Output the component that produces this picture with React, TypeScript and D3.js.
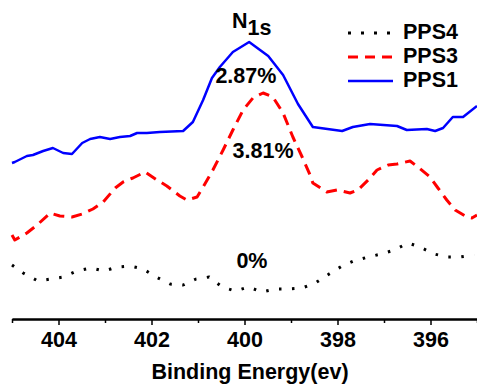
import React, { useRef, useEffect } from "react";
import * as d3 from "d3";

// binding energy (eV) and intensity (a.u.)
const pps1Energy = [405.0, 404.94, 404.68, 404.55, 404.33, 404.12, 403.9, 403.71, 403.49, 403.32, 403.11, 402.89, 402.68, 402.46, 402.31, 402.1, 401.82, 401.32, 401.11, 400.89, 400.7, 400.53, 400.25, 399.9, 399.49, 399.17, 398.85, 398.53, 397.9, 397.67, 397.3, 396.72, 396.51, 396.08, 395.9, 395.73, 395.52, 395.3, 395.0];
const pps1Value = [157, 158, 164, 165, 169, 172, 167, 166, 177, 181, 183, 181, 183, 184, 187, 187, 188, 189, 198, 220, 242, 253, 268, 278, 264, 245, 216, 193, 189, 193, 196, 194, 190, 191, 189, 192, 203, 203, 214];

const pps3Energy = [405.0, 404.94, 404.68, 404.46, 404.18, 403.97, 403.71, 403.49, 403.26, 403.04, 402.78, 402.61, 402.4, 402.14, 401.88, 401.67, 401.39, 401.24, 401.02, 400.89, 400.68, 400.46, 400.25, 400.03, 399.82, 399.6, 399.39, 399.17, 398.96, 398.76, 398.59, 398.53, 398.23, 398.01, 397.73, 397.56, 397.34, 397.15, 396.91, 396.72, 396.44, 396.27, 396.01, 395.84, 395.65, 395.47, 395.22, 395.11, 395.0];
const pps3Value = [85, 80, 87, 95, 107, 104, 103, 106, 111, 118, 132, 138, 142, 148, 140, 134, 124, 120, 123, 133, 150, 170, 190, 210, 222, 227, 223, 207, 183, 163, 145, 137, 128, 130, 127, 130, 140, 150, 155, 156, 159, 153, 143, 132, 120, 110, 103, 102, 105];

const pps4Energy = [405.0, 404.76, 404.44, 404.16, 403.9, 403.6, 403.3, 403.02, 402.74, 402.46, 402.18, 401.9, 401.6, 401.32, 401.04, 400.76, 400.48, 400.2, 399.92, 399.62, 399.34, 399.06, 398.76, 398.48, 398.18, 397.9, 397.65, 397.34, 397.06, 396.78, 396.48, 396.23, 395.92, 395.65, 395.37, 395.06];
const pps4Value = [55, 47, 39, 41, 43, 49, 52, 49, 53, 54, 51, 43, 36, 35, 41, 43, 33, 29, 33, 28, 31, 31, 32, 37, 46, 54, 59, 63, 66, 70, 77, 73, 66, 63, 63, 65];

const majorTicks = [404, 402, 400, 398, 396];
const minorTicks = [405, 403, 401, 399, 397, 395];

const series = [
    { name: "PPS4", energy: pps4Energy, value: pps4Value, color: "#000000", dash: "2.5 10.5", legendDash: "3 10", width: 3 },
    { name: "PPS3", energy: pps3Energy, value: pps3Value, color: "#ff0000", dash: "11 7", legendDash: "10 7", width: 3 },
    { name: "PPS1", energy: pps1Energy, value: pps1Value, color: "#0000ff", dash: null, legendDash: null, width: 2.5 },
];

const peakLabels = [
    { text: "2.87%", energy: 399.97, value: 237 },
    { text: "3.81%", energy: 399.6, value: 162 },
    { text: "0%", energy: 399.84, value: 52 },
];

const XpsChart = () => {
    const svgRef = useRef(null);

    useEffect(() => {
        const width = 477;
        const height = 385;
        const font = "'Liberation Sans', Arial, sans-serif";
        const fs = 21.5;

        const svg = d3.select(svgRef.current).attr("width", width).attr("height", height);
        svg.selectAll("*").remove();

        const x = d3.scaleLinear().domain([405, 395]).range([12, 477]);
        const y = d3.scaleLinear().domain([0, 320]).range([320, 0]);

        const line = d3
            .line<number>()
            .x((d: any) => x(d[0]))
            .y((d: any) => y(d[1]));

        series.forEach((s) => {
            const pts: any = s.energy.map((e, i) => [e, s.value[i]]);
            svg.append("path")
                .datum(pts)
                .attr("d", line as any)
                .attr("fill", "none")
                .attr("stroke", s.color)
                .attr("stroke-width", s.width)
                .attr("stroke-dasharray", s.dash)
                .attr("stroke-linejoin", "round");
        });

        // x axis
        const axisY = 319;
        const gMinor = svg.append("g").attr("transform", `translate(0,${axisY})`);
        gMinor.call(d3.axisBottom(x).tickValues(minorTicks).tickSize(4).tickSizeOuter(0).tickFormat(() => ""));
        const gMajor = svg.append("g").attr("transform", `translate(0,${axisY})`);
        gMajor.call(d3.axisBottom(x).tickValues(majorTicks).tickSize(6).tickSizeOuter(0).tickPadding(7).tickFormat(d3.format("d")));
        svg.selectAll(".domain").attr("stroke", "#000").attr("stroke-width", 2);
        svg.selectAll(".tick line").attr("stroke", "#000").attr("stroke-width", 1.5);
        gMajor.selectAll("text")
            .attr("font-family", font)
            .attr("font-size", fs)
            .attr("font-weight", "bold")
            .attr("fill", "#000");

        svg.append("text")
            .attr("x", 250)
            .attr("y", 379)
            .attr("text-anchor", "middle")
            .attr("font-family", font)
            .attr("font-size", fs)
            .attr("font-weight", "bold")
            .text("Binding Energy(ev)");

        // N1s title
        const title = svg.append("text")
            .attr("x", 232)
            .attr("y", 28)
            .attr("font-family", font)
            .attr("font-size", fs)
            .attr("font-weight", "bold");
        title.append("tspan").text("N");
        title.append("tspan").attr("dy", 7).text("1s");

        peakLabels.forEach((p) => {
            svg.append("text")
                .attr("x", x(p.energy))
                .attr("y", y(p.value))
                .attr("text-anchor", "middle")
                .attr("font-family", font)
                .attr("font-size", fs)
                .attr("font-weight", "bold")
                .text(p.text);
        });

        // legend
        const legend = svg.append("g");
        series.forEach((s, i) => {
            const ly = 33 + i * 24;
            legend.append("line")
                .attr("x1", 348)
                .attr("x2", 393)
                .attr("y1", ly)
                .attr("y2", ly)
                .attr("stroke", s.color)
                .attr("stroke-width", s.width)
                .attr("stroke-dasharray", s.legendDash);
            legend.append("text")
                .attr("x", 403)
                .attr("y", ly + 6)
                .attr("font-family", font)
                .attr("font-size", fs)
                .attr("font-weight", "bold")
                .text(s.name);
        });
    }, []);

    return <svg ref={svgRef} style={{ position: "absolute", left: 0, top: 0 }}></svg>;
};

export default function App() {
    return <XpsChart />;
}
